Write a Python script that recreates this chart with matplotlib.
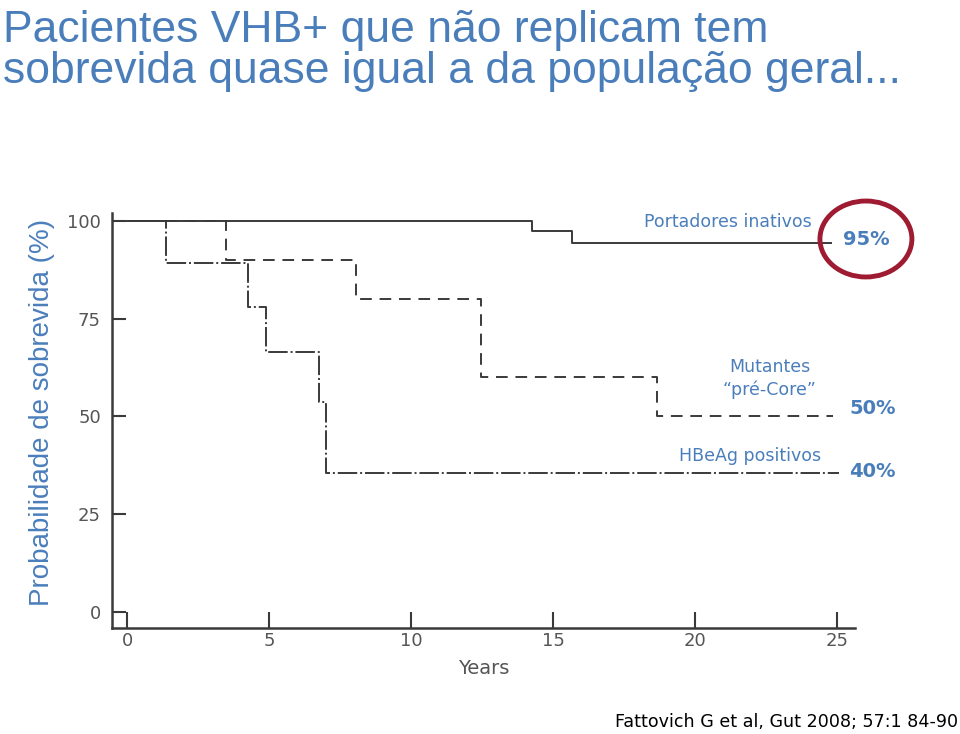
import matplotlib
matplotlib.use('Agg')
import matplotlib.pyplot as plt
from matplotlib.patches import Ellipse

# survival curves (Kaplan-Meier steps)
years_inativos = [0, 14.26, 15.67, 24.8]
surv_inativos = [100, 97.4, 94.4, 94.4]

years_precore = [0, 3.47, 8.06, 12.45, 18.65, 24.86]
surv_precore = [100, 89.9, 80.1, 60.0, 50.0, 50.0]

years_hbeag = [0, 1.36, 4.24, 4.88, 6.77, 7.0, 25.07]
surv_hbeag = [100, 89.2, 78.0, 66.5, 53.7, 35.5, 35.5]

x_ticks = [0, 5, 10, 15, 20, 25]
y_ticks = [0, 25, 50, 75, 100]

blue = '#4a7ebb'
line_col = '#3a3a3a'
tick_col = '#555555'

fig = plt.figure(figsize=(9.6, 7.34), dpi=100)
ax = fig.add_axes([0.1167, 0.1444, 0.774, 0.5654])

ax.step(years_inativos, surv_inativos, where='post', color=line_col, lw=1.4)
ax.step(years_precore, surv_precore, where='post', color=line_col, lw=1.4,
        linestyle=(0, (6, 4)))
ax.step(years_hbeag, surv_hbeag, where='post', color=line_col, lw=1.4,
        linestyle=(0, (10, 1.5, 1, 1.5)))

ax.set_xlim(-0.53, 25.63)
ax.set_ylim(-4.1, 102)
ax.set_xticks(x_ticks)
ax.set_yticks(y_ticks)
ax.tick_params(axis='both', direction='in', colors=line_col, labelcolor=tick_col,
               labelsize=13, width=1.5)
ax.tick_params(axis='y', length=10, pad=8)
ax.tick_params(axis='x', length=11.5, pad=3)
for s in ['top', 'right']:
    ax.spines[s].set_visible(False)
for s in ['left', 'bottom']:
    ax.spines[s].set_color(line_col)
    ax.spines[s].set_linewidth(1.8)
ax.set_xlabel('Years', fontsize=14, color=tick_col, labelpad=6)

# titles and labels
fig.text(0.003, 0.9428, 'Pacientes VHB+ que não replicam tem', fontsize=32,
         color=blue, family='Liberation Sans', ha='left', va='baseline')
fig.text(0.003, 0.887, 'sobrevida quase igual a da população geral...', fontsize=32,
         color=blue, family='Liberation Sans', ha='left', va='baseline')
fig.text(0.044, 0.4387, 'Probabilidade de sobrevida (%)', fontsize=20, color=blue,
         family='Liberation Sans', rotation=90, ha='center', va='center')

fig.text(0.758, 0.698, 'Portadores inativos', fontsize=12.5, color=blue, ha='center', va='center')
fig.text(0.902, 0.674, '95%', fontsize=14, color=blue, weight='bold', ha='center', va='center')
fig.text(0.802, 0.5, 'Mutantes', fontsize=12.5, color=blue, ha='center', va='center')
fig.text(0.802, 0.469, '\u201cpré-Core\u201d', fontsize=12.5, color=blue, ha='center', va='center')
fig.text(0.909, 0.444, '50%', fontsize=14, color=blue, weight='bold', ha='center', va='center')
fig.text(0.781, 0.379, 'HBeAg positivos', fontsize=12.5, color=blue, ha='center', va='center')
fig.text(0.909, 0.358, '40%', fontsize=14, color=blue, weight='bold', ha='center', va='center')

fig.patches.append(Ellipse((0.902, 0.6744), 0.0958, 0.1035, transform=fig.transFigure,
                           fill=False, edgecolor='#9e1b32', lw=3.5))

fig.text(0.998, 0.009, 'Fattovich G et al, Gut 2008; 57:1 84-90', fontsize=12.6,
         color='black', ha='right', va='baseline')

fig.savefig('out.png', dpi=100)
